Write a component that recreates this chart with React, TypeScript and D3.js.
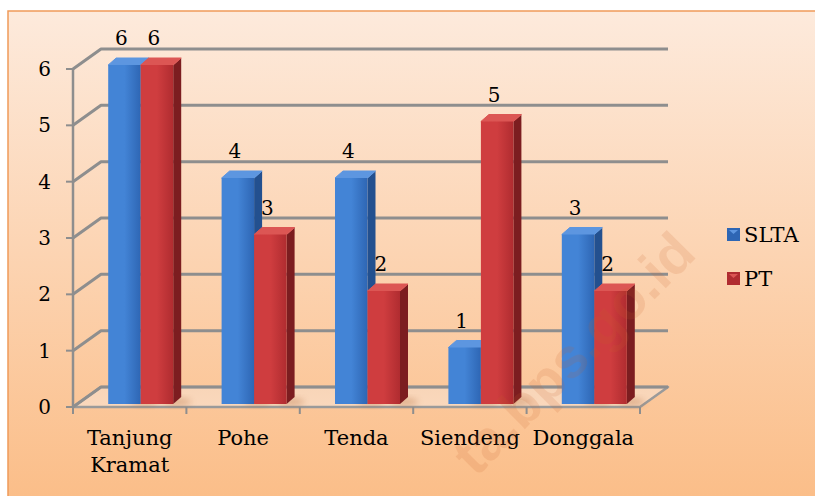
import React from 'react';
import * as d3 from 'd3';

// values
const categories = ['Tanjung Kramat', 'Pohe', 'Tenda', 'Siendeng', 'Donggala'];
const sltaValues = [6, 4, 4, 1, 3];
const ptValues = [6, 3, 2, 5, 2];
const yTicks = [0, 1, 2, 3, 4, 5, 6];
const seriesNames = ['SLTA', 'PT'];

const W = 815;
const H = 496;

const serif = "'DejaVu Serif', 'Liberation Serif', serif";

const colors = {
  SLTA: { front0: '#4384d6', front1: '#2e66b4', side: '#23508f', top: '#5d96e0' },
  PT: { front0: '#cf3d3f', front1: '#b02c30', side: '#7c1d20', top: '#dc5654' },
};

function App() {
  const x = d3.scaleBand<string>().domain(categories).range([73, 640]).padding(0);
  const yFront = d3.scaleLinear().domain([0, 6]).range([407, 69]);
  const yBar = d3.scaleLinear().domain([0, 6]).range([404, 65]);

  // depth of the back wall
  const wallDx = 28;
  const wallDy = -20;
  const xRight = x.range()[1];

  const barW = 32.5;
  const depthX = 8;
  const depthY = -7;

  const series = [
    { name: 'SLTA', values: sltaValues },
    { name: 'PT', values: ptValues },
  ];

  const bars = categories.flatMap((c, i) => {
    const center = (x(c) as number) + x.bandwidth() / 2 + 11;
    return series.map((s, j) => {
      const x0 = center - barW + j * barW;
      const v = s.values[i];
      return { c, name: s.name, v, x0, x1: x0 + barW, yTop: yBar(v), yBase: yBar(0) };
    });
  });

  return (
    <svg width={W} height={H} style={{ position: 'absolute', left: 0, top: 0 }}>
      <defs>
        <linearGradient id="bg" x1="0" y1="0" x2="0" y2="1">
          <stop offset="0" stopColor="#fdeadc" />
          <stop offset="1" stopColor="#fbbd87" />
        </linearGradient>
        <linearGradient id="floor" x1="0" y1="0" x2="0" y2="1">
          <stop offset="0" stopColor="#f8d5b8" />
          <stop offset="1" stopColor="#fad8bc" />
        </linearGradient>
        {seriesNames.map((n) => (
          <linearGradient key={n} id={'front-' + n} x1="0" y1="0" x2="1" y2="0">
            <stop offset="0" stopColor={colors[n].front0} />
            <stop offset="0.5" stopColor={colors[n].front0} />
            <stop offset="1" stopColor={colors[n].front1} />
          </linearGradient>
        ))}
        <filter id="shadow" x="-50%" y="-50%" width="200%" height="200%">
          <feGaussianBlur stdDeviation="3" />
        </filter>
      </defs>

      <rect x={0} y={0} width={W} height={H} fill="#ffffff" />
      <rect x={8} y={11} width={W} height={H} fill="url(#bg)" stroke="#f09a5a" strokeWidth={1.5} />

      {/* floor */}
      <polygon
        points={[
          [73, yFront(0)],
          [xRight, yFront(0)],
          [xRight + wallDx, yFront(0) + wallDy],
          [73 + wallDx, yFront(0) + wallDy],
        ].map((p) => p.join(',')).join(' ')}
        fill="url(#floor)"
        stroke="#9a9a9a"
        strokeWidth={2.5}
        strokeLinejoin="round"
      />

      {/* wall gridlines */}
      {yTicks.map((t) => (
        <polyline
          key={'g' + t}
          points={`73,${yFront(t)} ${73 + wallDx},${yFront(t) + wallDy} ${xRight + wallDx},${yFront(t) + wallDy}`}
          fill="none"
          stroke="#8e8e8e"
          strokeWidth={3}
          strokeLinejoin="round"
        />
      ))}

      {/* y axis */}
      <line x1={73} x2={73} y1={yFront(0)} y2={yFront(6)} stroke="#8e8e8e" strokeWidth={2.5} />
      {yTicks.map((t) => (
        <g key={'t' + t}>
          <line x1={66} x2={73} y1={yFront(t)} y2={yFront(t)} stroke="#8e8e8e" strokeWidth={2} />
          <text x={51} y={yFront(t) + 7} textAnchor="end" fontFamily={serif} fontSize={20} fill="#000">
            {t}
          </text>
        </g>
      ))}

      {/* category ticks */}
      {[...categories.map((c) => x(c) as number), xRight].map((px, i) => (
        <line key={'ct' + i} x1={px} x2={px} y1={yFront(0)} y2={yFront(0) + 7} stroke="#8e8e8e" strokeWidth={2} />
      ))}

      {/* bar shadows */}
      {bars.map((b, i) => (
        <ellipse
          key={'s' + i}
          cx={b.x1 + 4}
          cy={b.yBase - 2}
          rx={14}
          ry={4}
          fill="#b06a3a"
          opacity={0.35}
          filter="url(#shadow)"
        />
      ))}

      {/* bars */}
      {bars.map((b, i) => {
        const col = colors[b.name];
        return (
          <g key={'b' + i}>
            <polygon
              points={`${b.x1},${b.yTop} ${b.x1 + depthX},${b.yTop + depthY} ${b.x1 + depthX},${b.yBase + depthY} ${b.x1},${b.yBase}`}
              fill={col.side}
            />
            <polygon
              points={`${b.x0},${b.yTop} ${b.x0 + depthX},${b.yTop + depthY} ${b.x1 + depthX},${b.yTop + depthY} ${b.x1},${b.yTop}`}
              fill={col.top}
              stroke={col.top}
              strokeWidth={1}
              strokeLinejoin="round"
            />
            <rect x={b.x0} y={b.yTop} width={barW} height={b.yBase - b.yTop} fill={`url(#front-${b.name})`} />
          </g>
        );
      })}

      {/* data labels */}
      {bars.map((b, i) => (
        <text
          key={'l' + i}
          x={(b.x0 + b.x1) / 2 - 3}
          y={b.yTop - 20}
          textAnchor="middle"
          fontFamily={serif}
          fontSize={20}
          fill="#000"
        >
          {b.v}
        </text>
      ))}

      {/* category labels */}
      {categories.map((c) => {
        const words = c.split(' ');
        return (
          <text
            key={'c' + c}
            x={(x(c) as number) + x.bandwidth() / 2}
            y={445}
            textAnchor="middle"
            fontFamily={serif}
            fontSize={21}
            fill="#000"
          >
            {words.map((w, k) => (
              <tspan key={k} x={(x(c) as number) + x.bandwidth() / 2} dy={k === 0 ? 0 : 27}>
                {w}
              </tspan>
            ))}
          </text>
        );
      })}

      {/* legend */}
      {seriesNames.map((n, i) => (
        <g key={'lg' + n} transform={`translate(727,${228 + i * 44})`}>
          <rect x={0} y={0} width={13} height={13} fill={colors[n].front1} />
          <polygon points="2,2 11,2 6.5,6" fill={colors[n].top} />
          <text x={17} y={14} fontFamily={serif} fontSize={21} fill="#000">
            {n}
          </text>
        </g>
      ))}

      {/* watermark on top */}
      <text
        transform="translate(476,478) rotate(-45)"
        fontFamily="'Liberation Sans', Arial, sans-serif"
        fontWeight="bold"
        fontSize={56}
        fill="#c8602a"
        opacity={0.14}
      >
        ta.bps.go.id
      </text>
    </svg>
  );
}

export default App;
